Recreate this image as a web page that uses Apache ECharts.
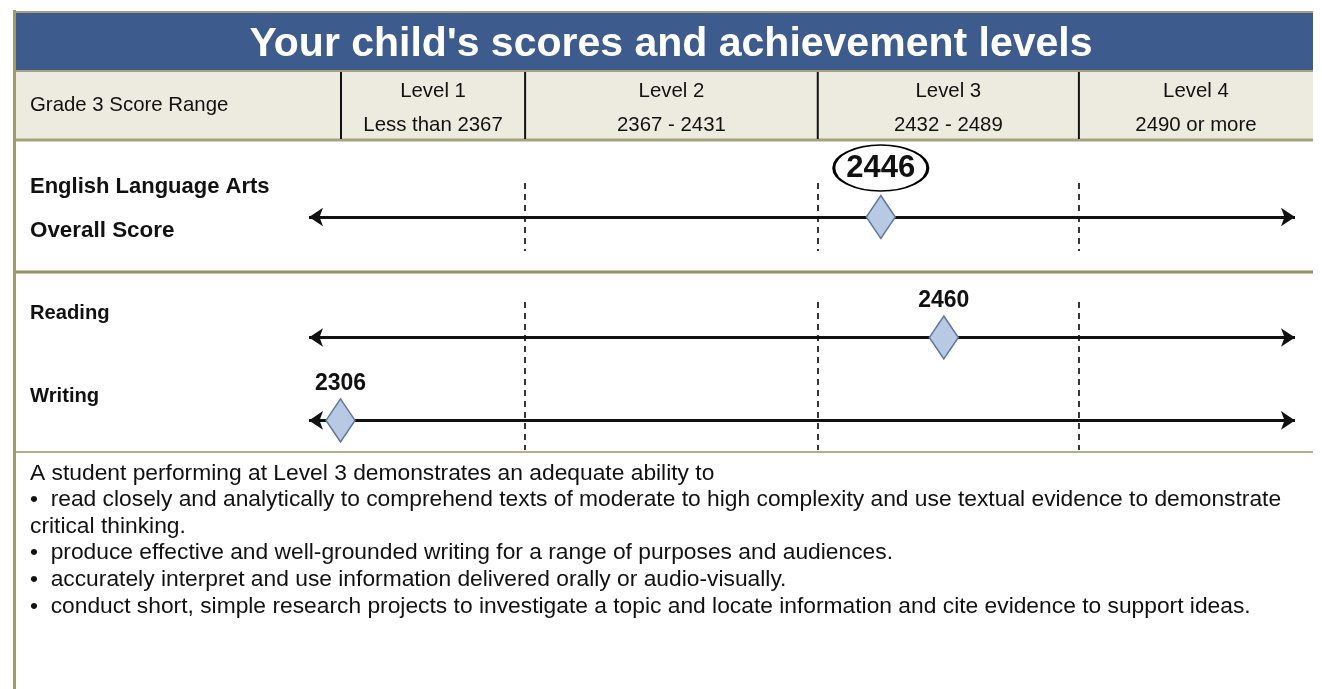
<!DOCTYPE html>
<html>
<head>
<meta charset="utf-8">
<script src="https://cdn.jsdelivr.net/npm/echarts@6/dist/echarts.min.js"></script>
<style>
html, body { margin: 0; padding: 0; background: #fff; }
#main { width: 1322px; height: 689px; }
</style>
</head>
<body>
<div id="main"></div>
<script>
// report content
const title = "Your child's scores and achievement levels";
const rangeLabel = 'Grade 3 Score Range';
const levelNames = ['Level 1', 'Level 2', 'Level 3', 'Level 4'];
const levelRanges = ['Less than 2367', '2367 - 2431', '2432 - 2489', '2490 or more'];
const cutScores = [2367, 2432, 2490];
const overallLabel = ['English Language Arts', 'Overall Score'];
const overallScore = 2446;
const claimNames = ['Reading', 'Writing'];
const claimScores = [2460, 2306];
const descLines = [
  'A student performing at Level 3 demonstrates an adequate ability to',
  '\u2022  read closely and analytically to comprehend texts of moderate to high complexity and use textual evidence to demonstrate',
  'critical thinking.',
  '\u2022  produce effective and well-grounded writing for a range of purposes and audiences.',
  '\u2022  accurately interpret and use information delivered orally or audio-visually.',
  '\u2022  conduct short, simple research projects to investigate a topic and locate information and cite evidence to support ideas.'
]

// scale shown on the number lines
const axisMin = 2319, axisMax = 2538
// scores below the visible scale get pinned just inside the left end
const pinned = v => Math.max(v, axisMin + 7)

const FONT = "'Liberation Sans', Arial, sans-serif"
const OLIVE = '#a7a27c'
const rowY = [0.24, 0.8]   // reading / writing rows inside the lower grid

const chart = echarts.init(document.getElementById('main'))

// solid number lines with arrow heads at both ends
function arrows (grid, ys) {
  return {
    type: 'scatter', xAxisIndex: grid, yAxisIndex: grid, data: [], z: 1, silent: true,
    markLine: {
      silent: true, z: 1, symbol: ['arrow', 'arrow'], symbolSize: 14,
      label: { show: false },
      lineStyle: { type: 'solid', width: 3, color: '#111' },
      data: ys.map(y => ({ yAxis: y }))
    }
  }
}
// dashed level boundaries
function dashes (grid) {
  return {
    type: 'scatter', xAxisIndex: grid, yAxisIndex: grid, data: [], z: 1, silent: true,
    markLine: {
      silent: true, z: 1, symbol: ['none', 'none'],
      label: { show: false },
      lineStyle: { type: [6, 5], width: 1.8, color: '#222' },
      data: cutScores.map(c => ({ xAxis: c }))
    }
  }
}

const diamondStyle = { color: '#b8c9e3', borderColor: '#5b76a0', borderWidth: 1.5, opacity: 1 }
const scoreLabel = {
  show: true, position: 'top', distance: 3,
  formatter: p => p.value[2],
  fontFamily: FONT, fontWeight: 'bold', fontSize: 23, color: '#111'
}

chart.setOption({
  animation: false,
  grid: [
    { left: 309, right: 27, top: 183, height: 68 },
    { left: 309, right: 27, top: 302, height: 148 }
  ],
  xAxis: [0, 1].map(i => ({
    type: 'value', gridIndex: i, min: axisMin, max: axisMax,
    show: false, splitLine: { show: false }
  })),
  yAxis: [0, 1].map(i => ({
    type: 'value', gridIndex: i, min: 0, max: 1, inverse: true,
    show: false, splitLine: { show: false }
  })),
  series: [
    dashes(0),
    dashes(1),
    arrows(0, [0.5]),
    arrows(1, rowY),
    {
      // overall score marker
      type: 'scatter', xAxisIndex: 0, yAxisIndex: 0, z: 10,
      symbol: 'diamond', symbolSize: [29, 43],
      itemStyle: diamondStyle,
      data: [[pinned(overallScore), 0.5, overallScore]]
    },
    {
      // circled overall score
      type: 'scatter', xAxisIndex: 0, yAxisIndex: 0, z: 11,
      symbol: 'circle', symbolSize: [94, 46], symbolOffset: [0, -49],
      itemStyle: { color: '#fff', borderColor: '#000', borderWidth: 2.2, opacity: 1 },
      label: {
        show: true, position: 'inside', formatter: p => p.value[2],
        fontFamily: FONT, fontWeight: 'bold', fontSize: 31, color: '#111'
      },
      data: [[pinned(overallScore), 0.5, overallScore]]
    },
    {
      type: 'scatter', xAxisIndex: 1, yAxisIndex: 1, z: 10,
      symbol: 'diamond', symbolSize: [29, 43],
      itemStyle: diamondStyle,
      label: scoreLabel,
      data: claimScores.map((s, i) => [pinned(s), rowY[i], s])
    }
  ]
})

// header and frame, columns lined up with the cut scores on the axis
const cutX = cutScores.map(c => chart.convertToPixel({ xAxisIndex: 0 }, c))
const colEdges = [341].concat(cutX, [1313])

const g = []
g.push({ type: 'rect', shape: { x: 15, y: 12, width: 1298, height: 58 }, style: { fill: '#3d5b8d' } })
g.push({ type: 'line', shape: { x1: 15, y1: 12, x2: 1313, y2: 12 }, style: { stroke: OLIVE, lineWidth: 2 } })
g.push({ type: 'rect', shape: { x: 15, y: 70, width: 1298, height: 70 }, style: { fill: '#edebe0' } })
g.push({ type: 'line', shape: { x1: 15, y1: 71, x2: 1313, y2: 71 }, style: { stroke: OLIVE, lineWidth: 2 } })
g.push({ type: 'line', shape: { x1: 15, y1: 140, x2: 1313, y2: 140 }, style: { stroke: OLIVE, lineWidth: 3 } })
g.push({ type: 'line', shape: { x1: 15, y1: 272, x2: 1313, y2: 272 }, style: { stroke: '#958f62', lineWidth: 3 } })
g.push({ type: 'line', shape: { x1: 15, y1: 452, x2: 1313, y2: 452 }, style: { stroke: '#b3ae8c', lineWidth: 2 } })
g.push({ type: 'line', shape: { x1: 14.5, y1: 10, x2: 14.5, y2: 689 }, style: { stroke: '#9e9a76', lineWidth: 3 } })
for (let i = 0; i < 4; i++) {
  g.push({ type: 'line', shape: { x1: colEdges[i], y1: 72, x2: colEdges[i], y2: 139 }, style: { stroke: '#111', lineWidth: 2 } })
}

function txt (text, x, y, size, bold) {
  return {
    type: 'text', x: x, y: y, z: 10,
    style: {
      text: text, fill: '#111', align: 'left', verticalAlign: 'middle',
      font: (bold ? 'bold ' : '') + size + 'px ' + FONT
    }
  }
}

const titleEl = txt(title, 671, 45, 41, true)
titleEl.style.fill = '#fff'
titleEl.style.align = 'center'
g.push(titleEl)

g.push(txt(rangeLabel, 30, 105, 20.4))
for (let i = 0; i < 4; i++) {
  const cx = (colEdges[i] + colEdges[i + 1]) / 2
  const a = txt(levelNames[i], cx, 91, 20.4); a.style.align = 'center'
  const b = txt(levelRanges[i], cx, 125, 20.4); b.style.align = 'center'
  g.push(a, b)
}

g.push(txt(overallLabel[0], 30, 187, 22, true))
g.push(txt(overallLabel[1], 30, 231, 22.4, true))
g.push(txt(claimNames[0], 30, 313, 20.2, true))
g.push(txt(claimNames[1], 30, 396, 20.2, true))

const desc = txt(descLines.join('\n'), 30, 460, 22.8)
desc.style.verticalAlign = 'top'
desc.style.lineHeight = 26.6
g.push(desc)

chart.setOption({ graphic: g })
</script>
</body>
</html>
